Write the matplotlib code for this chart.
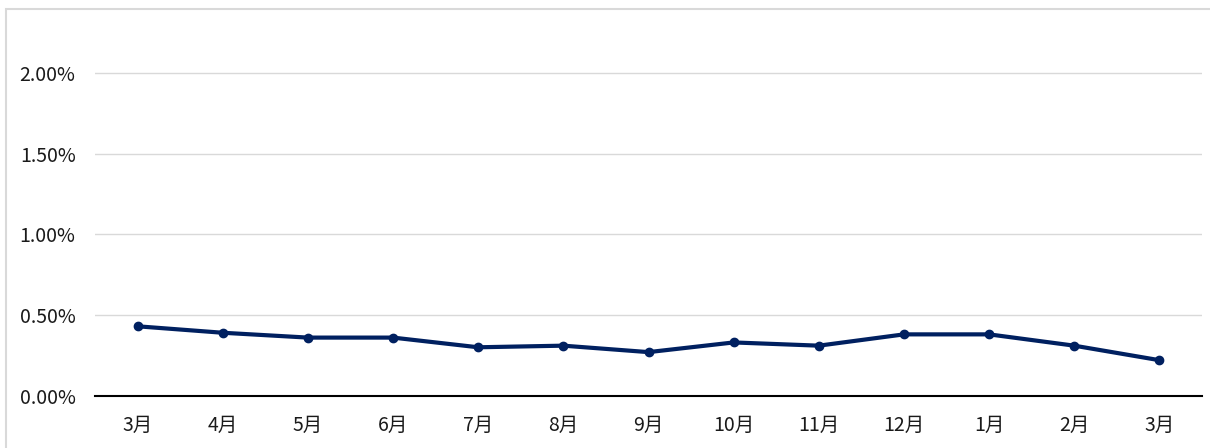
import matplotlib
matplotlib.use("Agg")
import matplotlib.pyplot as plt
from matplotlib.patches import Rectangle
from matplotlib.ticker import FuncFormatter

plt.rcParams['font.family'] = ['Noto Sans CJK JP', 'DejaVu Sans']

months = ["3月", "4月", "5月", "6月", "7月", "8月", "9月", "10月", "11月", "12月", "1月", "2月", "3月"]
rates = [0.43, 0.39, 0.36, 0.36, 0.30, 0.31, 0.27, 0.33, 0.31, 0.38, 0.38, 0.31, 0.22]
yticks = [0.0, 0.5, 1.0, 1.5, 2.0]

W, H = 1210, 448
fig = plt.figure(figsize=(W / 100, H / 100), dpi=100)

# outer chart border (cropped)
fig.patches.append(Rectangle((6 / W, -0.1), 1.2, 1 - 9 / H + 0.1, transform=fig.transFigure,
                             fill=False, edgecolor="#d9d9d9", linewidth=1.5))

left, right = 95 / W, 1202 / W
bottom, top = 1 - 395.7 / H, 1 - 10 / H
ax = fig.add_axes([left, bottom, right - left, top - bottom])

x = list(range(len(months)))
ax.plot(x, rates, color="#002060", linewidth=3, marker="o", markersize=6, zorder=3)

ax.set_xlim(-0.5, len(months) - 0.5)
ax.set_ylim(0, (395.7 - 10) / 161.4)
ax.set_yticks(yticks)
ax.yaxis.set_major_formatter(FuncFormatter(lambda v, p: f"{v:.2f}%"))
ax.set_xticks(x)
ax.set_xticklabels(months)

ax.grid(axis="y", color="#d9d9d9", linewidth=1)
ax.set_axisbelow(True)
for s in ["top", "right", "left"]:
    ax.spines[s].set_visible(False)
ax.spines["bottom"].set_color("black")
ax.spines["bottom"].set_linewidth(1.5)
ax.spines["bottom"].set_zorder(4)

ax.tick_params(axis="both", length=0, labelsize=14, colors="#1a1a1a")
ax.tick_params(axis="y", pad=14)
ax.tick_params(axis="x", pad=14)

fig.savefig("out.png", dpi=100)
